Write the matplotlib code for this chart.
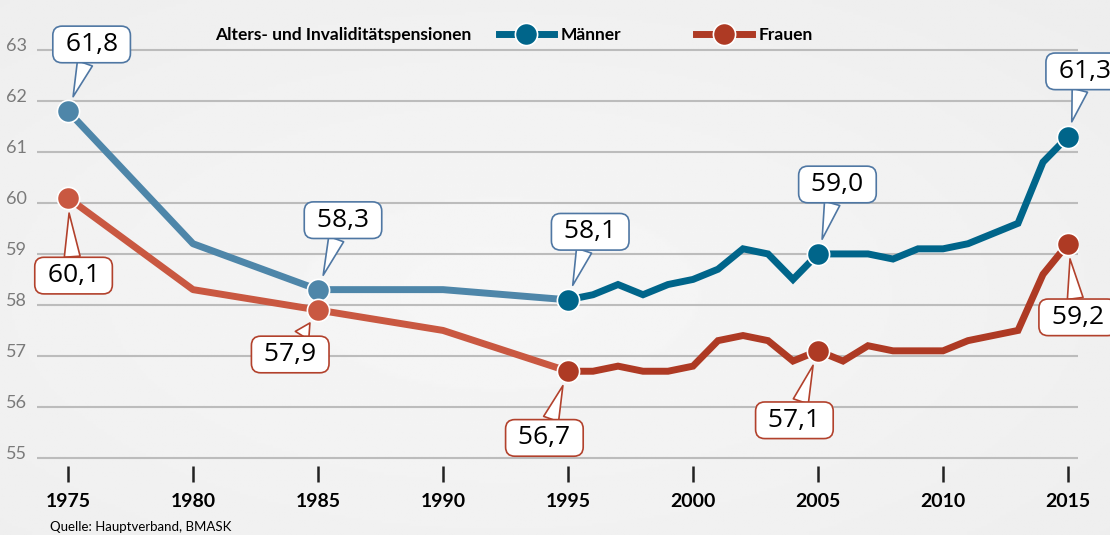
import numpy as np
import matplotlib
matplotlib.use("Agg")
import matplotlib.pyplot as plt
from matplotlib.lines import Line2D
from matplotlib import transforms

# ── Data ────────────────────────────────────────────────────────────────────
years = [1975, 1980, 1985, 1990, 1995, 1996, 1997, 1998, 1999, 2000, 2001, 2002,
         2003, 2004, 2005, 2006, 2007, 2008, 2009, 2010, 2011, 2012, 2013, 2014, 2015]
maenner = [61.8, 59.2, 58.3, 58.3, 58.1, 58.2, 58.4, 58.2, 58.4, 58.5, 58.7, 59.1,
           59.0, 58.5, 59.0, 59.0, 59.0, 58.9, 59.1, 59.1, 59.2, 59.4, 59.6, 60.8, 61.3]
frauen = [60.1, 58.3, 57.9, 57.5, 56.7, 56.7, 56.8, 56.7, 56.7, 56.8, 57.3, 57.4,
          57.3, 56.9, 57.1, 56.9, 57.2, 57.1, 57.1, 57.1, 57.3, 57.4, 57.5, 58.6, 59.2]
label_years = [1975, 1985, 1995, 2005, 2015]
x_ticks = [1975, 1980, 1985, 1990, 1995, 2000, 2005, 2010, 2015]
y_ticks = [55, 56, 57, 58, 59, 60, 61, 62, 63]
title = "Alters- und Invaliditätspensionen"
series_names = ["Männer", "Frauen"]
source = "Quelle: Hauptverband, BMASK"

# ── Styles ──────────────────────────────────────────────────────────────────
BLUE_LIGHT, BLUE = "#4e86a9", "#00658a"
RED_LIGHT, RED = "#c95841", "#ae3a24"
BLUE_BOX, RED_BOX = "#4f77a3", "#b2412c"
SPLIT = 1995
# callout offsets (points) for each labelled year
off_m = [(17, 48), (18, 50), (16, 49), (14, 50), (12, 47)]
off_f = [(4, -56), (-20, -32), (-17, -48), (-17, -50), (7, -53)]

plt.rcParams["font.family"] = ["Lato", "DejaVu Sans"]

W, H = 1110, 535
fig = plt.figure(figsize=(W / 100, H / 100), dpi=100)

# background gradient
bg = fig.add_axes([0, 0, 1, 1], zorder=-10)
gy, gx = np.mgrid[0:1:200j, 0:1:400j]
r = np.sqrt(((gx - 0.45) / 0.9) ** 2 + ((gy - 0.55) / 0.9) ** 2)
bg.imshow(0.965 - 0.04 * r, cmap="gray", vmin=0, vmax=1, aspect="auto",
          extent=[0, 1, 0, 1])
bg.set_axis_off()

# axes box in pixels (left, top, right, bottom)
L, T, R, B = 37, 4, 1078, 465.6
ax = fig.add_axes([L / W, (H - B) / H, (R - L) / W, (B - T) / H])
ax.patch.set_alpha(0)
ax.set_xlim(1973.76, 2015.4)
ax.set_ylim(54.85, 63.9)

yrs = np.array(years)
m = np.array(maenner)
f = np.array(frauen)
early = yrs <= SPLIT
late = yrs >= SPLIT

for vals, c_light, c_dark in [(m, BLUE_LIGHT, BLUE), (f, RED_LIGHT, RED)]:
    ax.plot(yrs[early], vals[early], color=c_light, lw=5, solid_capstyle="butt", zorder=3)
    ax.plot(yrs[late], vals[late], color=c_dark, lw=5, solid_joinstyle="miter", zorder=3)

boxes = [(m, BLUE_LIGHT, BLUE, BLUE_BOX, off_m), (f, RED_LIGHT, RED, RED_BOX, off_f)]
for vals, c_light, c_dark, c_box, offs in boxes:
    for yr, off in zip(label_years, offs):
        v = vals[years.index(yr)]
        col = c_light if yr < SPLIT else c_dark
        ax.plot(yr, v, "o", ms=16, color=col, mec="white", mew=1.2, zorder=5)
        ax.annotate(" " + f"{v:.1f}".replace(".", ",") + " ", xy=(yr, v), xytext=off,
                    textcoords="offset points", ha="center", va="center",
                    fontsize=19, family=["Open Sans", "DejaVu Sans"], color="black",
                    annotation_clip=False, zorder=6,
                    bbox=dict(boxstyle="round,pad=0.22,rounding_size=0.35",
                              fc="white", ec=c_box, lw=1.2),
                    arrowprops=dict(arrowstyle="wedge,tail_width=0.6,shrink_factor=0.5",
                                    fc="white", ec=c_box, lw=1.2,
                                    shrinkA=0, shrinkB=11))

# grid & axes
ax.set_yticks(y_ticks)
ax.yaxis.grid(True, color="#bcbcbc", lw=1.5)
ax.set_axisbelow(True)
for s in ax.spines.values():
    s.set_visible(False)
ax.tick_params(axis="y", length=0, pad=7, labelsize=13, labelcolor="#7a7a7a")
for lab in ax.get_yticklabels():
    lab.set_transform(lab.get_transform() + transforms.ScaledTranslation(0, 3.6 / 72, fig.dpi_scale_trans))
ax.set_xticks(x_ticks)
ax.set_xticklabels([str(t) for t in x_ticks], fontweight="bold", fontsize=14)
ax.tick_params(axis="x", length=11.5, width=1.8, color="#222222", pad=8)

# legend
ax.text((215 - L) / (R - L), (B - 35) / (B - T), title, transform=ax.transAxes,
        fontsize=12.5, fontweight="bold", va="center")
handles = [Line2D([], [], color=BLUE, lw=5, marker="o", ms=16, mec="white", mew=1.2),
           Line2D([], [], color=RED, lw=5, marker="o", ms=16, mec="white", mew=1.2)]
leg = ax.legend(handles, series_names, ncol=2, frameon=False, loc="center left",
                bbox_to_anchor=((483 - L) / (R - L), (B - 35) / (B - T)),
                handlelength=3.2, columnspacing=4.3, handletextpad=0.4,
                prop=dict(weight="bold", size=12.5))

fig.text(50 / W, 1 - 527 / H, source, fontsize=9.5, va="center")

fig.savefig("out.png", dpi=100)
